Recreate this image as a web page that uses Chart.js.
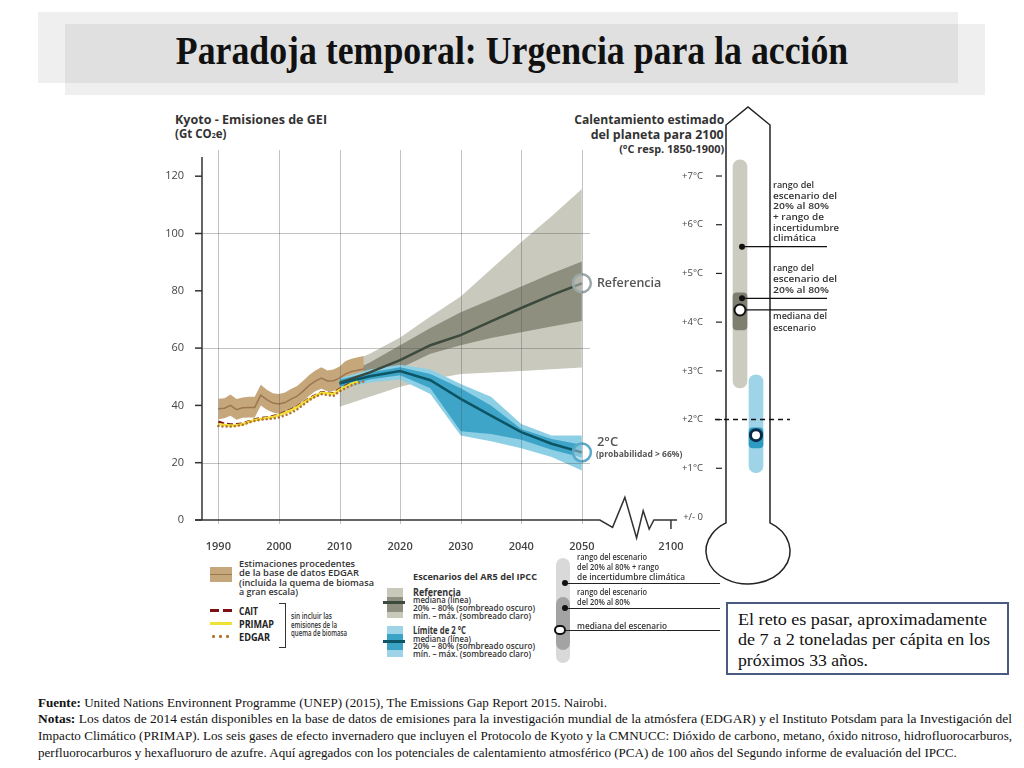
<!DOCTYPE html>
<html lang="es">
<head>
<meta charset="UTF-8">
<title>Paradoja temporal: Urgencia para la acción</title>
<script src="https://cdn.jsdelivr.net/npm/chart.js@4"></script>
<style>
  body { margin: 0; background: #fff; }
  #page { position: relative; width: 1024px; height: 768px; overflow: hidden; font-family: 'Open Sans', sans-serif; color: #333; }
  #page div, #page canvas { position: absolute; }
  .t { white-space: nowrap; line-height: 12px; font-size: 9px; font-weight: 600; }
  .b { font-weight: 700; }
  .serif { font-family: 'Liberation Serif', serif; color: #111; white-space: nowrap; }
  .fn { left: 38px; font-size: 13px; line-height: 16px; }
</style>
</head>
<body>
<div id="page">
  <!-- title boxes -->
  <div style="left:38px;top:12px;width:920px;height:71px;background:#efefef"></div>
  <div style="left:65px;top:24px;width:920px;height:71px;background:rgba(0,0,0,0.063)"></div>
  <div class="serif" style="left:0;top:31px;width:1024px;text-align:center;font-size:40px;line-height:40px;font-weight:700">
    <span style="display:inline-block" data-w="672" data-o="c">Paradoja temporal: Urgencia para la acción</span>
  </div>

  <!-- chart headers -->
  <div class="t b" style="left:175px;top:113px;font-size:11.5px;line-height:14px" data-w="152">Kyoto - Emisiones de GEI</div>
  <div class="t b" style="left:175px;top:127px;font-size:11.5px;line-height:14px">(Gt CO<span style="font-size:7px">2</span>e)</div>
  <div class="t b" style="right:300px;top:113px;font-size:12px;line-height:14px" data-w="150" data-o="r">Calentamiento estimado</div>
  <div class="t b" style="right:300px;top:128px;font-size:12px;line-height:14px" data-w="133" data-o="r">del planeta para 2100</div>
  <div class="t b" style="right:300px;top:143px;font-size:10px;line-height:12px" data-w="105" data-o="r">(°C resp. 1850-1900)</div>

  <canvas id="emis" width="560" height="450" style="left:160px;top:100px"></canvas>
  <canvas id="thermo" width="200" height="500" style="left:660px;top:100px"></canvas>

  <!-- thermometer notes -->
  <div class="t" style="left:773px;top:179px" data-w="41">rango del</div>
  <div class="t" style="left:773px;top:190px" data-w="64">escenario del</div>
  <div class="t" style="left:773px;top:200px" data-w="56">20% al 80%</div>
  <div class="t" style="left:773px;top:211px" data-w="51">+ rango de</div>
  <div class="t" style="left:773px;top:222px" data-w="66">incertidumbre</div>
  <div class="t" style="left:773px;top:232px" data-w="43">climática</div>
  <div class="t" style="left:773px;top:262px" data-w="41">rango del</div>
  <div class="t" style="left:773px;top:273px" data-w="64">escenario del</div>
  <div class="t" style="left:773px;top:284px" data-w="56">20% al 80%</div>
  <div class="t" style="left:773px;top:310px" data-w="54">mediana del</div>
  <div class="t" style="left:773px;top:322px" data-w="43">escenario</div>

  <!-- legend: historical -->
  <div style="left:210px;top:567px;width:22px;height:15px;background:#c6a77c"></div>
  <div style="left:210px;top:574px;width:22px;height:1px;background:#9b7650"></div>
  <div class="t" style="left:239px;top:558px" data-w="116">Estimaciones procedentes</div>
  <div class="t" style="left:239px;top:567px" data-w="120">de la base de datos EDGAR</div>
  <div class="t" style="left:239px;top:577px" data-w="135">(incluida la quema de biomasa</div>
  <div class="t" style="left:239px;top:586px" data-w="59">a gran escala)</div>
  <div style="left:210px;top:609px;width:22px;height:3px;background:repeating-linear-gradient(90deg,#7b1113 0 9px,transparent 9px 13px)"></div>
  <div style="left:210px;top:622px;width:22px;height:3px;background:#efe136"></div>
  <div style="left:210px;top:635px;width:22px;height:3px;background:radial-gradient(circle,#b5742d 1.3px,transparent 1.7px) 0 0/7px 3px repeat-x"></div>
  <div class="t b" style="left:239px;top:605px;font-size:10px;color:#222" data-w="19">CAIT</div>
  <div class="t b" style="left:239px;top:618px;font-size:10px;color:#222" data-w="35">PRIMAP</div>
  <div class="t b" style="left:239px;top:631px;font-size:10px;color:#222" data-w="31">EDGAR</div>
  <div style="left:279px;top:603px;width:6px;height:43px;border:1.3px solid #333;border-left:none"></div>
  <div class="t" style="left:291px;top:611px;font-size:8px;line-height:10px" data-w="41">sin incluir las</div>
  <div class="t" style="left:291px;top:620px;font-size:8px;line-height:10px" data-w="46">emisiones de la</div>
  <div class="t" style="left:291px;top:628px;font-size:8px;line-height:10px" data-w="56">quema de biomasa</div>

  <!-- legend: scenarios -->
  <div class="t b" style="left:413px;top:571px" data-w="124">Escenarios del AR5 del IPCC</div>
  <div style="left:387px;top:588px;width:16px;height:30px;background:#c8c8bb"></div>
  <div style="left:387px;top:597px;width:16px;height:15px;background:#8f8f80"></div>
  <div style="left:383px;top:601px;width:22px;height:3px;background:#3b4a3c"></div>
  <div class="t b" style="left:413px;top:586px;font-size:11px" data-w="48">Referencia</div>
  <div class="t" style="left:413px;top:595px;font-size:8px;line-height:10px" data-w="58">mediana (línea)</div>
  <div class="t" style="left:413px;top:603px;font-size:8px;line-height:10px" data-w="122">20% – 80% (sombreado oscuro)</div>
  <div class="t" style="left:413px;top:611px;font-size:8px;line-height:10px" data-w="118">mín. – máx. (sombreado claro)</div>
  <div style="left:387px;top:626px;width:16px;height:31px;background:#9fd4e8"></div>
  <div style="left:387px;top:634px;width:16px;height:16px;background:#3aa3c6"></div>
  <div style="left:383px;top:640px;width:22px;height:3px;background:#0b5566"></div>
  <div class="t b" style="left:413px;top:624px;font-size:11px" data-w="53">Límite de 2 °C</div>
  <div class="t" style="left:413px;top:634px;font-size:8px;line-height:10px" data-w="58">mediana (línea)</div>
  <div class="t" style="left:413px;top:641px;font-size:8px;line-height:10px" data-w="122">20% – 80% (sombreado oscuro)</div>
  <div class="t" style="left:413px;top:649px;font-size:8px;line-height:10px" data-w="118">mín. – máx. (sombreado claro)</div>

  <!-- legend: thermometer key -->
  <div style="left:556px;top:558px;width:14px;height:105px;border-radius:7px;background:#d9d9d9"></div>
  <div style="left:556px;top:597px;width:14px;height:53px;border-radius:7px;background:#a3a3a3"></div>
  <div style="left:565px;top:583px;width:155px;height:1px;background:#222"></div>
  <div style="left:565px;top:608px;width:155px;height:1px;background:#222"></div>
  <div style="left:562px;top:630px;width:158px;height:1px;background:#222"></div>
  <div style="left:562px;top:580px;width:6px;height:6px;border-radius:3px;background:#111"></div>
  <div style="left:562px;top:605px;width:6px;height:6px;border-radius:3px;background:#111"></div>
  <div style="left:554px;top:625px;width:8px;height:6px;border:2px solid #111;border-radius:6px;background:#fff"></div>
  <div class="t" style="left:577px;top:551px" data-w="70">rango del escenario</div>
  <div class="t" style="left:577px;top:561px" data-w="82">del 20% al 80% + rango</div>
  <div class="t" style="left:577px;top:571px" data-w="108">de incertidumbre climática</div>
  <div class="t" style="left:577px;top:586px" data-w="70">rango del escenario</div>
  <div class="t" style="left:577px;top:596px" data-w="53">del 20% al 80%</div>
  <div class="t" style="left:577px;top:620px" data-w="90">mediana del escenario</div>

  <!-- text box -->
  <div style="left:726px;top:602px;width:283px;height:73px;box-sizing:border-box;border:2px solid #4a5a80"></div>
  <div class="serif" style="left:738px;top:610px;font-size:16px;line-height:20px" data-w="249">El reto es pasar, aproximadamente</div>
  <div class="serif" style="left:738px;top:630px;font-size:16px;line-height:20px" data-w="252">de 7 a 2 toneladas per cápita en los</div>
  <div class="serif" style="left:738px;top:651px;font-size:16px;line-height:20px" data-w="130">próximos 33 años.</div>

  <!-- footnote -->
  <div class="serif fn" style="top:695px" data-w="569"><b>Fuente:</b> United Nations Environnent Programme (UNEP) (2015), The Emissions Gap Report 2015. Nairobi.</div>
  <div class="serif fn" style="top:711px" data-w="974"><b>Notas:</b> Los datos de 2014 están disponibles en la base de datos de emisiones para la investigación mundial de la atmósfera (EDGAR) y el Instituto Potsdam para la Investigación del</div>
  <div class="serif fn" style="top:728px" data-w="974">Impacto Climático (PRIMAP). Los seis gases de efecto invernadero que incluyen el Protocolo de Kyoto y la CMNUCC: Dióxido de carbono, metano, óxido nitroso, hidrofluorocarburos,</div>
  <div class="serif fn" style="top:745px" data-w="919">perfluorocarburos y hexafluoruro de azufre. Aquí agregados con los potenciales de calentamiento atmosférico (PCA) de 100 años del Segundo informe de evaluación del IPCC.</div>
</div>

<script>
// historical emissions (Gt CO2e), yearly from 1990
const edgarYears = [1990, 1991, 1992, 1993, 1994, 1995, 1996, 1997, 1998, 1999, 2000, 2001, 2002,
  2003, 2004, 2005, 2006, 2007, 2008, 2009, 2010, 2011, 2012, 2013, 2014];
const edgarMid = [38.8, 39.0, 40.0, 38.5, 39.2, 39.3, 39.3, 43.6, 42.0, 40.8, 40.5, 41.0, 42.2,
  43.2, 45.0, 47.0, 48.5, 49.5, 48.5, 48.6, 49.5, 51.0, 51.8, 52.3, 52.7];
const edgarHigh = [42.3, 42.5, 43.8, 42.2, 42.8, 43.0, 43.0, 47.2, 45.5, 44.2, 44.0, 44.5, 45.7,
  46.8, 48.6, 50.6, 52.2, 53.3, 52.2, 52.5, 53.6, 55.5, 56.3, 56.8, 57.2];
const edgarLow = [35.2, 35.5, 36.4, 35.0, 35.7, 35.8, 35.8, 40.0, 38.5, 37.5, 37.1, 37.6, 38.7,
  39.7, 41.5, 43.4, 44.9, 45.8, 44.9, 45.0, 45.7, 47.0, 47.8, 48.2, 48.6];
const caitVals = [34.3, 33.6, 33.3, 33.4, 33.6, 34.4, 35.1, 35.5, 35.8, 36.2, 36.8, 37.6, 38.5,
  39.6, 41.0, 42.4, 43.5, 44.6, 44.4, 44.2, 45.7, 46.8, 47.8];
const primapVals = [33.5, 33.2, 33.0, 33.1, 33.4, 34.2, 34.9, 35.3, 35.6, 36.0, 36.6, 37.4, 38.3,
  39.4, 40.8, 42.2, 43.3, 44.4, 44.2, 44.0, 45.4, 46.6, 47.6, 48.3];
const edgarDotVals = [32.8, 32.6, 32.6, 32.8, 33.2, 34.0, 34.6, 35.0, 35.2, 35.4, 35.8, 36.5, 37.4,
  38.6, 40.2, 41.8, 43.0, 43.9, 43.6, 43.3, 44.9, 46.0, 47.0, 47.8, 48.3];

// IPCC AR5 scenarios, every 5 years
const scenYears = [2010, 2015, 2020, 2025, 2030, 2035, 2040, 2045, 2050];
const refMid = [47.8, 51.5, 55.8, 61.0, 64.5, 69.3, 74.0, 78.5, 82.6];
const refDarkHi = [50.0, 55.0, 61.0, 67.0, 72.5, 77.0, 81.5, 86.0, 90.2];
const refDarkLo = [45.8, 49.5, 53.0, 58.0, 61.0, 63.5, 65.5, 67.5, 69.5];
const refLightHi = [53.5, 58.0, 63.7, 71.0, 78.0, 87.5, 97.0, 106.0, 115.5];
const refLightLo = [39.5, 43.0, 46.5, 49.0, 51.0, 51.5, 52.0, 52.6, 53.2];
const blueMid = [47.6, 50.2, 52.0, 48.8, 42.3, 36.4, 30.7, 26.6, 23.6];
const blueDarkHi = [49.0, 51.5, 53.3, 51.0, 46.0, 40.0, 31.8, 28.3, 26.3];
const blueDarkLo = [46.5, 49.0, 50.5, 46.0, 31.0, 30.0, 28.0, 24.5, 21.8];
const blueLightHi = [49.5, 52.5, 54.2, 52.5, 47.5, 43.0, 33.5, 29.5, 29.5];
const blueLightLo = [45.8, 48.0, 49.0, 44.0, 29.5, 27.5, 25.0, 22.0, 17.3];

// axes
const yTickVals = [0, 20, 40, 60, 80, 100, 120];
const yGridVals = [20, 60, 100];
const xGridVals = [1990, 2000, 2010, 2020, 2030, 2040, 2050];
const xTickPos = [1990, 2000, 2010, 2020, 2030, 2040, 2050, 2064.7]; // 2100 sits after the axis break
const xTickLabels = ['1990', '2000', '2010', '2020', '2030', '2040', '2050', '2100'];

// thermometer (°C over 1850-1900, year 2100)
const thermoCats = ['Referencia', 'Límite de 2 °C'];
const thermoLightLo = [2.65, 0.91];
const thermoLightHi = [7.33, 2.92];
const thermoDarkLo = [3.84, 1.42];
const thermoDarkHi = [4.6, 1.83];
const thermoMedian = [4.25, 1.68];
const thermoPointers = [5.55, 4.49];
const thermoTickVals = [0, 1, 2, 3, 4, 5, 6, 7];
const thermoTickLabels = ['+/- 0', '+1°C', '+2°C', '+3°C', '+4°C', '+5°C', '+6°C', '+7°C'];

Chart.defaults.font.family = "'Open Sans', sans-serif";

const pts = (xs, ys) => ys.map((v, i) => ({ x: xs[i], y: v }));
const lastBig = (r) => (ctx) => ctx.dataIndex === ctx.dataset.data.length - 1 ? r : 0;

function band(xs, hi, lo, color) {
  return [
    { data: pts(xs, hi), fill: '+1', backgroundColor: color, borderWidth: 0, pointRadius: 0 },
    { data: pts(xs, lo), fill: false, borderWidth: 0, pointRadius: 0 }
  ];
}

const datasets = [
  ...band(scenYears, refLightHi, refLightLo, '#c9c9bd'),
  ...band(scenYears, refDarkHi, refDarkLo, '#8f8f80'),
  ...band(edgarYears, edgarHigh, edgarLow, '#c6a77c'),
  ...band(scenYears, blueLightHi, blueLightLo, '#8dd0e6'),
  ...band(scenYears, blueDarkHi, blueDarkLo, '#3ea5c8'),
  { data: pts(edgarYears, edgarMid), borderColor: '#9b7650', borderWidth: 1.5, pointRadius: 0, fill: false },
  { data: pts(scenYears, refMid), borderColor: '#3b4a3c', borderWidth: 2.5, fill: false,
    pointRadius: lastBig(9), pointBorderWidth: 2.5, pointBorderColor: '#9ba8a9', pointBackgroundColor: 'rgba(255,255,255,0.35)' },
  { data: pts(scenYears, blueMid), borderColor: '#0b5566', borderWidth: 2.5, fill: false,
    pointRadius: lastBig(9), pointBorderWidth: 2.5, pointBorderColor: '#5aa9c9', pointBackgroundColor: 'rgba(255,255,255,0.35)' },
  { data: pts(edgarYears, caitVals), borderColor: '#7b1113', borderWidth: 2.5, borderDash: [6, 3], pointRadius: 0, fill: false },
  { data: pts(edgarYears, primapVals), borderColor: '#efe136', borderWidth: 2.5, pointRadius: 0, fill: false },
  { data: pts(edgarYears, edgarDotVals), borderColor: '#b5742d', borderWidth: 2.5, borderDash: [0.1, 4],
    borderCapStyle: 'round', pointRadius: 0, fill: false }
];
datasets.forEach((d, i) => { d.order = 100 - i; d.tension = 0; });

// small zigzag of the broken time axis, offsets from the break start
const breakZig = [[12.7, 7.4], [25, -22.6], [36.7, 18], [43.3, -9.3], [49.3, 9], [54, 0]];

function seg(ctx, x1, y1, x2, y2) {
  ctx.beginPath(); ctx.moveTo(x1, y1); ctx.lineTo(x2, y2); ctx.stroke();
}

const framePlugin = {
  id: 'frame',
  afterDatasetsDraw(chart) {
    const { ctx, chartArea: a } = chart;
    const x = chart.scales.x, y = chart.scales.y;
    const x2050 = x.getPixelForValue(2050);
    ctx.save();
    ctx.strokeStyle = 'rgba(80,80,80,0.35)';
    ctx.lineWidth = 1;
    yGridVals.forEach(v => {
      const py = Math.round(y.getPixelForValue(v)) + 0.5;
      seg(ctx, a.left, py, x2050 + 8, py);
    });
    xGridVals.forEach(v => {
      const px = Math.round(x.getPixelForValue(v)) + 0.5;
      seg(ctx, px, a.top - 7, px, a.bottom + 4);
    });

    ctx.strokeStyle = '#333';
    ctx.lineWidth = 1.5;
    seg(ctx, a.left, a.top, a.left, a.bottom);
    yTickVals.forEach(v => {
      const py = y.getPixelForValue(v);
      seg(ctx, a.left - 7, py, a.left, py);
    });
    const bx = x2050 + 18;
    ctx.beginPath();
    ctx.moveTo(a.left - 7, a.bottom);
    ctx.lineTo(bx, a.bottom);
    breakZig.forEach(([dx, dy]) => ctx.lineTo(bx + dx, a.bottom + dy));
    ctx.lineTo(a.right, a.bottom);
    ctx.stroke();
    const p2100 = x.getPixelForValue(xTickPos[xTickPos.length - 1]);
    seg(ctx, p2100, a.bottom, p2100, a.bottom + 9);

    // end-point labels
    const refPt = chart.getDatasetMeta(11).data[refMid.length - 1];
    const bluePt = chart.getDatasetMeta(12).data[blueMid.length - 1];
    ctx.fillStyle = '#555';
    ctx.textBaseline = 'middle';
    ctx.font = "600 12.5px 'Open Sans'";
    ctx.fillText('Referencia', refPt.x + 15, refPt.y);
    ctx.font = "600 13px 'Open Sans'";
    ctx.fillText('2°C', bluePt.x + 15, bluePt.y - 10);
    ctx.font = "bold 8.5px 'Open Sans'";
    ctx.fillText('(probabilidad > 66%)', bluePt.x + 14, bluePt.y + 2);
    ctx.restore();
  }
};

new Chart(document.getElementById('emis'), {
  type: 'line',
  data: { datasets },
  options: {
    responsive: false,
    animation: false,
    layout: { padding: { top: 57, right: 43, left: 0, bottom: 0 } },
    plugins: { legend: { display: false }, tooltip: { enabled: false } },
    scales: {
      x: {
        type: 'linear', min: 1987.3, max: 2065.7,
        grid: { display: false }, border: { display: false },
        afterBuildTicks: s => { s.ticks = xTickPos.map(v => ({ value: v })); },
        afterFit: s => { s.height = 30; },
        ticks: { autoSkip: false, maxRotation: 0, padding: 12, color: '#444',
          font: { size: 11, weight: '600' }, callback: (v, i) => xTickLabels[i] }
      },
      y: {
        min: 0, max: 126.7,
        grid: { display: false }, border: { display: false },
        afterBuildTicks: s => { s.ticks = yTickVals.map(v => ({ value: v })); },
        afterFit: s => { s.width = 42; },
        ticks: { padding: 10, color: '#444', font: { size: 11 } }
      }
    }
  },
  plugins: [framePlugin]
});

const thermoPlugin = {
  id: 'thermoOutline',
  beforeDatasetsDraw(chart) {
    const { ctx } = chart;
    const x = chart.scales.x, y = chart.scales.y;
    const cx = (x.getPixelForValue(0) + x.getPixelForValue(1)) / 2;
    const half = 22, y0 = y.getPixelForValue(0);
    const top = y0 - 410, shoulder = y0 - 392;
    const by = y0 + 34, rx = 42, ry = 33;
    const a = Math.acos(half / rx);
    ctx.save();
    ctx.strokeStyle = '#222';
    ctx.lineWidth = 1.5;
    ctx.beginPath();
    ctx.moveTo(cx - half, shoulder);
    ctx.lineTo(cx, top);
    ctx.lineTo(cx + half, shoulder);
    ctx.ellipse(cx, by, rx, ry, 0, -a, Math.PI + a, false);
    ctx.closePath();
    ctx.stroke();
    ctx.lineWidth = 1.2;
    thermoTickVals.slice(1).forEach(v => {
      const py = y.getPixelForValue(v);
      seg(ctx, cx - half - 10, py, cx - half - 4, py);
    });
    ctx.restore();
  },
  afterDatasetsDraw(chart) {
    const { ctx } = chart;
    const x = chart.scales.x, y = chart.scales.y;
    const cx = (x.getPixelForValue(0) + x.getPixelForValue(1)) / 2;
    const half = 22;
    const refX = x.getPixelForValue(0);
    ctx.save();
    ctx.strokeStyle = '#111';
    ctx.lineWidth = 1.5;
    ctx.setLineDash([5, 4]);
    const p2 = y.getPixelForValue(2);
    seg(ctx, cx - half - 11, p2, cx + half + 20, p2);
    ctx.setLineDash([]);
    ctx.lineWidth = 1.2;
    ctx.fillStyle = '#111';
    thermoPointers.forEach(v => {
      const py = y.getPixelForValue(v);
      ctx.beginPath(); ctx.arc(refX + 2, py, 3, 0, Math.PI * 2); ctx.fill();
      seg(ctx, refX + 2, py, cx + half + 57, py);
    });
    const pm = y.getPixelForValue(thermoMedian[0]);
    seg(ctx, refX + 6, pm, cx + half + 57, pm);
    ctx.restore();
  }
};

new Chart(document.getElementById('thermo'), {
  type: 'bar',
  data: {
    labels: thermoCats,
    datasets: [
      { type: 'line', data: thermoMedian, showLine: false, pointRadius: 5.5,
        pointBackgroundColor: '#fff', pointBorderColor: ['#111', '#0b2a4a'], pointBorderWidth: [2, 3], order: 1 },
      { data: thermoDarkLo.map((v, i) => [v, thermoDarkHi[i]]), backgroundColor: ['#7f7f6f', '#2d9bc2'],
        borderRadius: 4, borderSkipped: false, barThickness: 14, grouped: false, order: 2 },
      { data: thermoLightLo.map((v, i) => [v, thermoLightHi[i]]), backgroundColor: ['#cbcbc0', '#9fd4e8'],
        borderRadius: 7, borderSkipped: false, barThickness: 14, grouped: false, order: 3 }
    ]
  },
  options: {
    responsive: false,
    animation: false,
    layout: { padding: { top: 50, bottom: 83, right: 96, left: 0 } },
    plugins: { legend: { display: false }, tooltip: { enabled: false } },
    scales: {
      x: { display: false },
      y: {
        min: 0, max: 7.534,
        grid: { display: false }, border: { display: false },
        afterBuildTicks: s => { s.ticks = thermoTickVals.map(v => ({ value: v })); },
        afterFit: s => { s.width = 72; },
        ticks: { padding: 21, color: '#444', font: { size: 9.5 }, callback: (v, i) => thermoTickLabels[i] }
      }
    }
  },
  plugins: [thermoPlugin]
});

// squeeze text lines to the widths measured on the original slide
document.querySelectorAll('[data-w]').forEach(el => {
  const w = el.getBoundingClientRect().width;
  const k = +el.dataset.w / w;
  el.style.transformOrigin = el.dataset.o === 'r' ? 'right center' : (el.dataset.o === 'c' ? 'center center' : 'left center');
  el.style.transform = 'scaleX(' + k.toFixed(3) + ')';
});
</script>
</body>
</html>
